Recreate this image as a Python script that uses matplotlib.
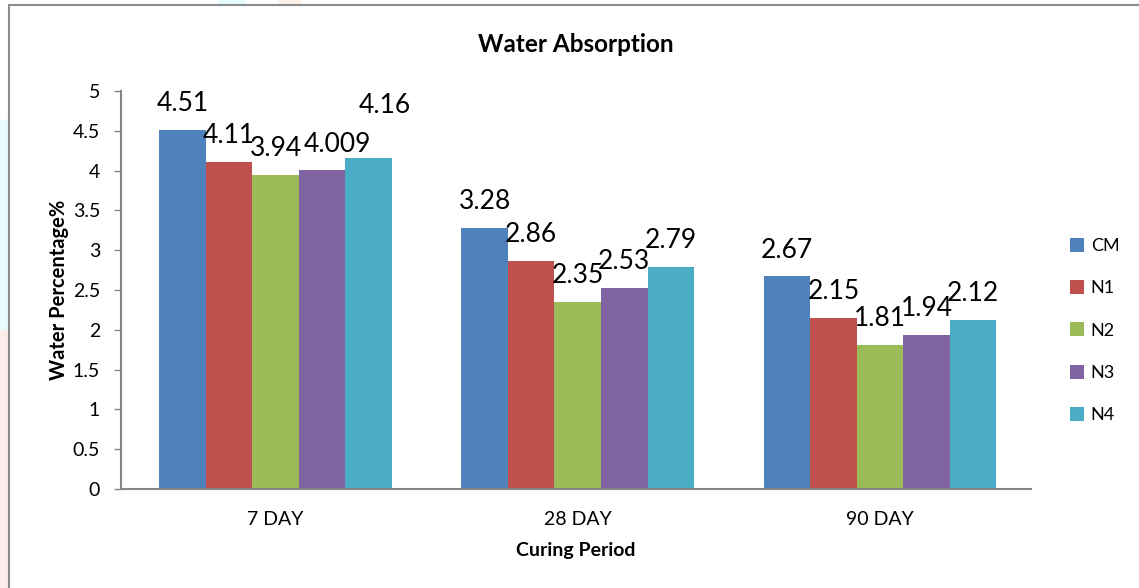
import numpy as np
import matplotlib
matplotlib.use('Agg')
import matplotlib.pyplot as plt
from matplotlib.patches import Rectangle

plt.rcParams['font.family'] = ['Lato', 'DejaVu Sans']

# data
periods = ['7 DAY', '28 DAY', '90 DAY']
series = ['CM', 'N1', 'N2', 'N3', 'N4']
cm = [4.51, 3.28, 2.67]
n1 = [4.11, 2.86, 2.15]
n2 = [3.94, 2.35, 1.81]
n3 = [4.009, 2.53, 1.94]
n4 = [4.16, 2.79, 2.12]
label_text = [['4.51', '3.28', '2.67'],
              ['4.11', '2.86', '2.15'],
              ['3.94', '2.35', '1.81'],
              ['4.009', '2.53', '1.94'],
              ['4.16', '2.79', '2.12']]

colors = ['#4F81BD', '#C0504D', '#9BBB59', '#8064A2', '#4BACC6']
values = [cm, n1, n2, n3, n4]

fig = plt.figure(figsize=(11.39, 5.88), dpi=100)

# faint watermark bits around the edge of the original screenshot
W, H = 1139, 588
for (x0, y0, x1, y1, c) in [(0, 120, 9, 330, '#E6FCFD'), (0, 330, 9, 588, '#FDECEC'),
                            (218, 0, 245, 5, '#E6FCFD'), (278, 0, 300, 5, '#FDF0E6')]:
    fig.patches.append(Rectangle((x0 / W, 1 - y1 / H), (x1 - x0) / W, (y1 - y0) / H,
                                 transform=fig.transFigure, color=c, zorder=0))

ax = fig.add_axes([0.1062, 0.1684, 0.799, 0.6769])

# outer chart border (only left/top visible in the original)
fig.patches.append(Rectangle((9 / W, -0.05), 1.2, 1 - 5 / H + 0.05,
                             transform=fig.transFigure, fill=False,
                             edgecolor='#8C8C8C', linewidth=1.5))

x = np.arange(len(periods))
w = 0.154
for i, (name, vals) in enumerate(zip(series, values)):
    pos = x + (i - 2) * w
    ax.bar(pos, vals, width=w, color=colors[i], label=name, zorder=2)
    for j, v in enumerate(vals):
        dx, dy = 0, 19
        if name == 'N4' and j == 0:
            dx, dy = 11.5, 38
        if name == 'N3' and j == 0:
            dx, dy = 11, 18
        ax.annotate(label_text[i][j], (pos[j], v), xytext=(dx, dy),
                    textcoords='offset points', ha='center', va='center',
                    fontsize=19, color='black')

ax.set_xlim(-0.5116, 2.5)
ax.set_ylim(0, 5)
ax.set_yticks(np.arange(0, 5.01, 0.5))
ax.set_yticklabels(['0', '0.5', '1', '1.5', '2', '2.5', '3', '3.5', '4', '4.5', '5'])
ax.set_xticks(x)
ax.set_xticklabels(periods)
ax.tick_params(axis='x', length=0, pad=16, labelsize=14)
ax.tick_params(axis='y', length=5, color='#868686', width=1, labelsize=14, pad=10)

for s in ['top', 'right']:
    ax.spines[s].set_visible(False)
for s in ['left', 'bottom']:
    ax.spines[s].set_color('#868686')
    ax.spines[s].set_linewidth(1.5)

ax.set_title('Water Absorption', fontsize=17.5, fontweight='bold', pad=28)
ax.set_xlabel('Curing Period', fontsize=14, fontweight='bold', labelpad=10)
ax.set_ylabel('Water Percentage%', fontsize=14.5, fontweight='bold', labelpad=3)

ax.legend(loc='center left', bbox_to_anchor=(1.025, 0.398), frameon=False,
          handlelength=0.8, handleheight=0.8, handletextpad=0.35,
          labelspacing=1.45, fontsize=13)

fig.savefig('out.png', dpi=100)
